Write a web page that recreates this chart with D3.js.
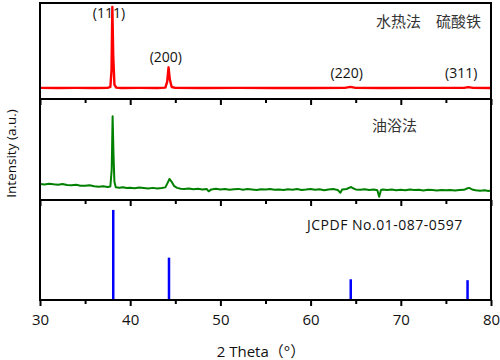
<!DOCTYPE html>
<html lang="zh">
<head>
<meta charset="utf-8">
<title>XRD patterns</title>
<script src="https://cdn.jsdelivr.net/npm/d3@7"></script>
<style>
    body {margin: 0; background: #fff;}
    text {font-family: "Open Sans", "Noto Sans CJK SC", sans-serif; fill: #111;}
    .cjk {font-family: "Noto Sans CJK SC", sans-serif; fill: #333;}
</style>
</head>
<body>
<script>
    // --- data ---
    // 2 theta range and ticks
    const xDomain = [30, 80];
    const majorTicks = [30, 40, 50, 60, 70, 80];
    const minorTicks = [35, 45, 55, 65, 75];

    // hydrothermal sample (red), [2theta, intensity]
    const hydroPattern = [
        [30, 11.6], [32, 11.5], [34, 11.6], [36, 11.5], [37.5, 11.6], [37.8, 12.6],
        [37.93, 30], [38.02, 96], [38.12, 45], [38.25, 15], [38.45, 11.8], [39, 11.5],
        [41, 11.6], [43, 11.5], [43.9, 11.8], [44.1, 18], [44.25, 33], [44.4, 20],
        [44.6, 12.5], [45, 11.6], [48, 11.5], [52, 11.6], [56, 11.5], [60, 11.5],
        [63.8, 11.6], [64.4, 12.6], [65, 11.6], [68, 11.5], [72, 11.6], [77, 11.6],
        [77.5, 12.4], [78, 11.6], [80, 11.5]
    ];

    // oil-bath sample (green), [2theta, intensity]
    const oilBathPattern = [
        [30.0, 15.9], [30.5, 15.4], [31.0, 16.1], [31.5, 15.6], [32.0, 15.2], [32.5, 15.8],
        [33.0, 14.9], [33.5, 14.6], [34.0, 15.1], [34.5, 14.2], [35.0, 14.0], [35.5, 14.5],
        [36.0, 13.6], [36.5, 13.2], [37.0, 13.7], [37.5, 12.9], [37.8, 13.4], [37.95, 30],
        [38.05, 83], [38.15, 45], [38.25, 18], [38.4, 12.6], [38.8, 12.1], [39.2, 12.7],
        [39.6, 11.8], [40.0, 12.2], [40.5, 11.6], [41.0, 12.3], [41.5, 11.9], [42.0, 11.4],
        [42.5, 12.0], [43.0, 11.3], [43.5, 11.8], [43.9, 12.5], [44.15, 17], [44.35, 20.8],
        [44.6, 18], [44.85, 14], [45.2, 12.0], [45.6, 11.2], [46.0, 10.8], [46.5, 11.4],
        [47.0, 10.6], [47.5, 11.1], [48.0, 10.3], [48.5, 10.9], [48.7, 8.6], [49.0, 10.5],
        [49.5, 11.2], [50.0, 10.4], [50.5, 10.9], [51.0, 10.1], [51.5, 10.7], [52.0, 11.0],
        [52.5, 10.2], [53.0, 10.8], [53.5, 10.4], [54.0, 9.8], [54.5, 10.6], [55.0, 10.3],
        [55.5, 10.9], [56.0, 10.1], [56.5, 10.5], [57.0, 9.9], [57.5, 10.7], [58.0, 10.2],
        [58.5, 10.8], [59.0, 10.0], [59.5, 10.4], [60.0, 10.9], [60.5, 10.1], [61.0, 10.6],
        [61.5, 9.7], [62.0, 10.3], [62.5, 10.8], [63.0, 10.0], [63.3, 7.2], [63.5, 10.4],
        [64.0, 10.9], [64.3, 12.2], [64.5, 12.8], [64.7, 11.6], [65.0, 10.5], [65.5, 10.1],
        [66.0, 10.6], [66.5, 9.8], [67.0, 10.3], [67.4, 9.6], [67.6, 3.2], [67.8, 9.9],
        [68.0, 10.4], [68.5, 9.9], [69.0, 10.5], [69.5, 9.7], [70.0, 10.2], [70.5, 9.6],
        [71.0, 10.3], [71.5, 9.9], [72.0, 10.1], [72.5, 9.5], [73.0, 10.2], [73.5, 9.8],
        [74.0, 9.4], [74.5, 10.0], [75.0, 9.6], [75.5, 9.9], [76.0, 9.3], [76.5, 9.8],
        [77.0, 10.1], [77.4, 11.6], [77.6, 12.0], [77.9, 10.4], [78.3, 9.7], [78.8, 9.2],
        [79.3, 9.6], [79.7, 9.0], [80.0, 9.3]
    ];

    // reference card sticks (blue)
    const refPositions = [38.12, 44.30, 64.45, 77.40];
    const refIntensities = [100, 47, 23, 22];

    // Miller indices above the red peaks
    const hklLabels = ["(111)", "(200)", "(220)", "(311)"];
    const hklLabelX = [37.65, 43.95, 64.0, 76.7];
    const hklLabelY = [90, 44, 27, 27];

    const panelLabels = ["水热法　硫酸铁", "油浴法", "JCPDF No.01-087-0597"];

    // --- layout ---
    const dim = {width: 500, height: 360};
    const margin = {left: 40, right: 9};
    const panelEdges = [3, 99, 200, 300];   // top of panel 1 ... bottom of panel 3

    const x = d3.scaleLinear().domain(xDomain).range([margin.left, dim.width - margin.right]);

    const panels = [
        {y: d3.scaleLinear().domain([0, 100]).range([panelEdges[1], panelEdges[0]])},
        {y: d3.scaleLinear().domain([0, 100]).range([panelEdges[2], panelEdges[1]])},
        {y: d3.scaleLinear().domain([0, 111]).range([panelEdges[3], panelEdges[2]])}
    ];

    const svg = d3.select("body").append("svg")
        .attr("width", dim.width)
        .attr("height", dim.height);

    const line = yScale => d3.line().x(d => x(d[0])).y(d => yScale(d[1]));

    // red curve
    svg.append("path")
        .datum(hydroPattern)
        .attr("fill", "none")
        .attr("stroke", "#ff0000")
        .attr("stroke-width", 2.4)
        .attr("stroke-linejoin", "round")
        .attr("d", line(panels[0].y));

    // green curve
    svg.append("path")
        .datum(oilBathPattern)
        .attr("fill", "none")
        .attr("stroke", "#008000")
        .attr("stroke-width", 2)
        .attr("stroke-linejoin", "round")
        .attr("d", line(panels[1].y));

    // blue sticks
    svg.selectAll(".stick")
        .data(refPositions)
        .join("line")
        .attr("class", "stick")
        .attr("x1", d => x(d)).attr("x2", d => x(d))
        .attr("y1", panels[2].y(0))
        .attr("y2", (d, i) => panels[2].y(refIntensities[i]))
        .attr("stroke", "#0000ff")
        .attr("stroke-width", 2.5);

    // frames and x axes
    panels.forEach((p, i) => {
        const bottom = panelEdges[i + 1];
        const last = i === panels.length - 1;

        svg.append("g")
            .attr("transform", `translate(0,${bottom})`)
            .call(d3.axisBottom(x).tickValues(minorTicks).tickSize(4).tickFormat(""))
            .call(g => g.select(".domain").remove());

        const major = svg.append("g")
            .attr("transform", `translate(0,${bottom})`)
            .call(d3.axisBottom(x).tickValues(majorTicks).tickSize(6).tickPadding(8)
                .tickFormat(last ? d3.format("d") : ""));
        major.select(".domain").remove();
        major.selectAll("text")
            .style("font-size", "15px")
            .style("font-family", "'Open Sans', sans-serif")
            .attr("fill", "#111");

        svg.append("rect")
            .attr("x", x(xDomain[0]))
            .attr("y", panelEdges[i])
            .attr("width", x(xDomain[1]) - x(xDomain[0]))
            .attr("height", bottom - panelEdges[i])
            .attr("fill", "none")
            .attr("stroke", "#000")
            .attr("stroke-width", 2);
    });
    svg.selectAll(".tick line").attr("stroke", "#000").attr("stroke-width", 2);

    // hkl labels
    svg.selectAll(".hkl")
        .data(hklLabels)
        .join("text")
        .attr("class", "hkl")
        .attr("x", (d, i) => x(hklLabelX[i]))
        .attr("y", (d, i) => panels[0].y(hklLabelY[i]))
        .attr("dy", "0.35em")
        .attr("text-anchor", "middle")
        .style("font-size", "14px")
        .text(d => d);

    // panel captions
    svg.append("text").attr("class", "cjk")
        .attr("x", 481).attr("y", 27)
        .attr("text-anchor", "end")
        .style("font-size", "15px")
        .text(panelLabels[0]);

    svg.append("text").attr("class", "cjk")
        .attr("x", 372).attr("y", 131)
        .style("font-size", "15px")
        .text(panelLabels[1]);

    svg.append("text")
        .attr("x", 307).attr("y", 230)
        .style("font-size", "14px")
        .style("letter-spacing", "0.5px")
        .text(panelLabels[2]);

    // axis titles
    svg.append("text")
        .attr("transform", `translate(15.5,${(panelEdges[0] + panelEdges[3]) / 2 + 2}) rotate(-90)`)
        .attr("text-anchor", "middle")
        .style("font-size", "13.5px")
        .text("Intensity (a.u.)");

    svg.append("text")
        .attr("x", 261).attr("y", 357)
        .attr("text-anchor", "middle")
        .style("font-size", "15px")
        .text("2 Theta（°）");
</script>
</body>
</html>
